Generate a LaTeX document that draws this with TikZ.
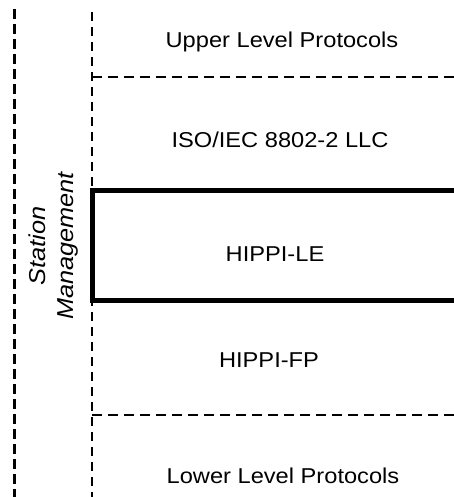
\documentclass[tikz,border=0pt]{standalone}
\usepackage{fontspec}
\setmainfont[FakeStretch=1.1]{Liberation Sans}

\begin{document}
\begin{tikzpicture}[x=1pt,y=-1pt]

        \useasboundingbox (0,0) rectangle (454,497);

        \begin{scope}
          \coordinate (smtop)  at (14.5,9);
          \coordinate (smbot)  at (14.5,497);
          \coordinate (stktop) at (92,12);
          \coordinate (stkbot) at (92,497);
          \coordinate (upL)    at (92,77);
          \coordinate (upR)    at (454,77);
          \coordinate (lowL)   at (92,415);
          \coordinate (lowR)   at (454,415);
          \coordinate (leTR)   at (456,190);
          \coordinate (leTL)   at (92,190);
          \coordinate (leBL)   at (92,300);
          \coordinate (leBR)   at (456,300);
        \end{scope}

        \begin{scope}[every node/.style={anchor=base, font=\fontsize{21.5}{26}\selectfont}]
          \node (ulp)  at (282,48)  {Upper Level Protocols};
          \node (llc)  at (280,147) {ISO/IEC 8802-2 LLC};
          \node (le)   at (275,261) {HIPPI-LE};
          \node (fp)   at (269,367) {HIPPI-FP};
          \node (llp)  at (283,483) {Lower Level Protocols};
        \end{scope}

        \node[rotate=90, align=center, font=\fontsize{23}{28}\selectfont\itshape]
          (sm) at (54,246) {Station\\Management};

        \begin{scope}[every path/.style={draw}]
          \path[line width=3pt, dash pattern=on 10pt off 5pt] (smtop) -- (smbot);
          \path[line width=2pt, dash pattern=on 9pt off 6pt] (stktop) -- (stkbot);
          \path[line width=2pt, dash pattern=on 10pt off 6pt] (upL) -- (upR);
          \path[line width=2pt, dash pattern=on 10pt off 6pt] (lowL) -- (lowR);
          \path[line width=5pt, line join=miter] (leTR) -- (leTL) -- (leBL) -- (leBR);
        \end{scope}

      \end{tikzpicture}
\end{document}
